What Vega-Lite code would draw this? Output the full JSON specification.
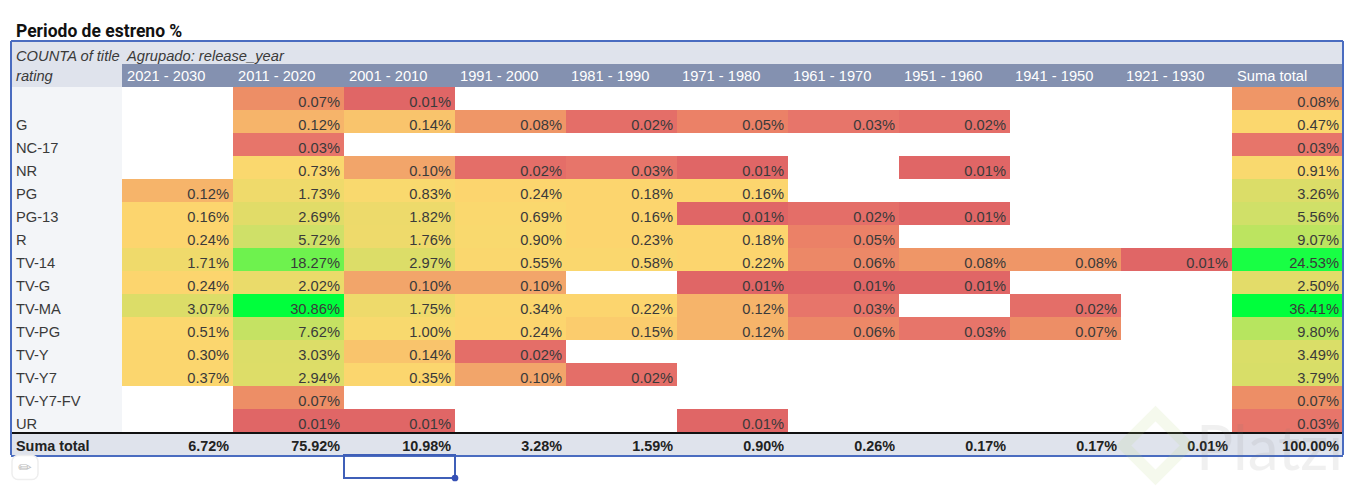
{"$schema":"https://vega.github.io/schema/vega-lite/v6.json","width":1363,"height":490,"padding":0,"autosize":{"type":"none"},"background":"white","config":{"view":{"stroke":null}},
"datasets":{
"cells":[
{"r":"(blank)","c":"2011 - 2020","v":0.07},{"r":"(blank)","c":"2001 - 2010","v":0.01},{"r":"(blank)","c":"Suma total","v":0.08},
{"r":"G","c":"2011 - 2020","v":0.12},{"r":"G","c":"2001 - 2010","v":0.14},{"r":"G","c":"1991 - 2000","v":0.08},{"r":"G","c":"1981 - 1990","v":0.02},{"r":"G","c":"1971 - 1980","v":0.05},{"r":"G","c":"1961 - 1970","v":0.03},{"r":"G","c":"1951 - 1960","v":0.02},{"r":"G","c":"Suma total","v":0.47},
{"r":"NC-17","c":"2011 - 2020","v":0.03},{"r":"NC-17","c":"Suma total","v":0.03},
{"r":"NR","c":"2011 - 2020","v":0.73},{"r":"NR","c":"2001 - 2010","v":0.10},{"r":"NR","c":"1991 - 2000","v":0.02},{"r":"NR","c":"1981 - 1990","v":0.03},{"r":"NR","c":"1971 - 1980","v":0.01},{"r":"NR","c":"1951 - 1960","v":0.01},{"r":"NR","c":"Suma total","v":0.91},
{"r":"PG","c":"2021 - 2030","v":0.12},{"r":"PG","c":"2011 - 2020","v":1.73},{"r":"PG","c":"2001 - 2010","v":0.83},{"r":"PG","c":"1991 - 2000","v":0.24},{"r":"PG","c":"1981 - 1990","v":0.18},{"r":"PG","c":"1971 - 1980","v":0.16},{"r":"PG","c":"Suma total","v":3.26},
{"r":"PG-13","c":"2021 - 2030","v":0.16},{"r":"PG-13","c":"2011 - 2020","v":2.69},{"r":"PG-13","c":"2001 - 2010","v":1.82},{"r":"PG-13","c":"1991 - 2000","v":0.69},{"r":"PG-13","c":"1981 - 1990","v":0.16},{"r":"PG-13","c":"1971 - 1980","v":0.01},{"r":"PG-13","c":"1961 - 1970","v":0.02},{"r":"PG-13","c":"1951 - 1960","v":0.01},{"r":"PG-13","c":"Suma total","v":5.56},
{"r":"R","c":"2021 - 2030","v":0.24},{"r":"R","c":"2011 - 2020","v":5.72},{"r":"R","c":"2001 - 2010","v":1.76},{"r":"R","c":"1991 - 2000","v":0.90},{"r":"R","c":"1981 - 1990","v":0.23},{"r":"R","c":"1971 - 1980","v":0.18},{"r":"R","c":"1961 - 1970","v":0.05},{"r":"R","c":"Suma total","v":9.07},
{"r":"TV-14","c":"2021 - 2030","v":1.71},{"r":"TV-14","c":"2011 - 2020","v":18.27},{"r":"TV-14","c":"2001 - 2010","v":2.97},{"r":"TV-14","c":"1991 - 2000","v":0.55},{"r":"TV-14","c":"1981 - 1990","v":0.58},{"r":"TV-14","c":"1971 - 1980","v":0.22},{"r":"TV-14","c":"1961 - 1970","v":0.06},{"r":"TV-14","c":"1951 - 1960","v":0.08},{"r":"TV-14","c":"1941 - 1950","v":0.08},{"r":"TV-14","c":"1921 - 1930","v":0.01},{"r":"TV-14","c":"Suma total","v":24.53},
{"r":"TV-G","c":"2021 - 2030","v":0.24},{"r":"TV-G","c":"2011 - 2020","v":2.02},{"r":"TV-G","c":"2001 - 2010","v":0.10},{"r":"TV-G","c":"1991 - 2000","v":0.10},{"r":"TV-G","c":"1971 - 1980","v":0.01},{"r":"TV-G","c":"1961 - 1970","v":0.01},{"r":"TV-G","c":"1951 - 1960","v":0.01},{"r":"TV-G","c":"Suma total","v":2.50},
{"r":"TV-MA","c":"2021 - 2030","v":3.07},{"r":"TV-MA","c":"2011 - 2020","v":30.86},{"r":"TV-MA","c":"2001 - 2010","v":1.75},{"r":"TV-MA","c":"1991 - 2000","v":0.34},{"r":"TV-MA","c":"1981 - 1990","v":0.22},{"r":"TV-MA","c":"1971 - 1980","v":0.12},{"r":"TV-MA","c":"1961 - 1970","v":0.03},{"r":"TV-MA","c":"1941 - 1950","v":0.02},{"r":"TV-MA","c":"Suma total","v":36.41},
{"r":"TV-PG","c":"2021 - 2030","v":0.51},{"r":"TV-PG","c":"2011 - 2020","v":7.62},{"r":"TV-PG","c":"2001 - 2010","v":1.00},{"r":"TV-PG","c":"1991 - 2000","v":0.24},{"r":"TV-PG","c":"1981 - 1990","v":0.15},{"r":"TV-PG","c":"1971 - 1980","v":0.12},{"r":"TV-PG","c":"1961 - 1970","v":0.06},{"r":"TV-PG","c":"1951 - 1960","v":0.03},{"r":"TV-PG","c":"1941 - 1950","v":0.07},{"r":"TV-PG","c":"Suma total","v":9.80},
{"r":"TV-Y","c":"2021 - 2030","v":0.30},{"r":"TV-Y","c":"2011 - 2020","v":3.03},{"r":"TV-Y","c":"2001 - 2010","v":0.14},{"r":"TV-Y","c":"1991 - 2000","v":0.02},{"r":"TV-Y","c":"Suma total","v":3.49},
{"r":"TV-Y7","c":"2021 - 2030","v":0.37},{"r":"TV-Y7","c":"2011 - 2020","v":2.94},{"r":"TV-Y7","c":"2001 - 2010","v":0.35},{"r":"TV-Y7","c":"1991 - 2000","v":0.10},{"r":"TV-Y7","c":"1981 - 1990","v":0.02},{"r":"TV-Y7","c":"Suma total","v":3.79},
{"r":"TV-Y7-FV","c":"2011 - 2020","v":0.07},{"r":"TV-Y7-FV","c":"Suma total","v":0.07},
{"r":"UR","c":"2011 - 2020","v":0.01},{"r":"UR","c":"2001 - 2010","v":0.01},{"r":"UR","c":"1971 - 1980","v":0.01},{"r":"UR","c":"Suma total","v":0.03}
],
"totals":[{"c":"2021 - 2030","v":6.72},{"c":"2011 - 2020","v":75.92},{"c":"2001 - 2010","v":10.98},{"c":"1991 - 2000","v":3.28},{"c":"1981 - 1990","v":1.59},{"c":"1971 - 1980","v":0.90},{"c":"1961 - 1970","v":0.26},{"c":"1951 - 1960","v":0.17},{"c":"1941 - 1950","v":0.17},{"c":"1921 - 1930","v":0.01},{"c":"Suma total","v":100.00}],
"columns":[{"c":"2021 - 2030"},{"c":"2011 - 2020"},{"c":"2001 - 2010"},{"c":"1991 - 2000"},{"c":"1981 - 1990"},{"c":"1971 - 1980"},{"c":"1961 - 1970"},{"c":"1951 - 1960"},{"c":"1941 - 1950"},{"c":"1921 - 1930"},{"c":"Suma total"}],
"allcols":[{"c":"label"},{"c":"2021 - 2030"},{"c":"2011 - 2020"},{"c":"2001 - 2010"},{"c":"1991 - 2000"},{"c":"1981 - 1990"},{"c":"1971 - 1980"},{"c":"1961 - 1970"},{"c":"1951 - 1960"},{"c":"1941 - 1950"},{"c":"1921 - 1930"},{"c":"Suma total"}],
"allrows":[{"r":"head1"},{"r":"head2"},{"r":"(blank)"},{"r":"G"},{"r":"NC-17"},{"r":"NR"},{"r":"PG"},{"r":"PG-13"},{"r":"R"},{"r":"TV-14"},{"r":"TV-G"},{"r":"TV-MA"},{"r":"TV-PG"},{"r":"TV-Y"},{"r":"TV-Y7"},{"r":"TV-Y7-FV"},{"r":"UR"},{"r":"total"}],
"rows":[{"r":"(blank)","t":""},{"r":"G","t":"G"},{"r":"NC-17","t":"NC-17"},{"r":"NR","t":"NR"},{"r":"PG","t":"PG"},{"r":"PG-13","t":"PG-13"},{"r":"R","t":"R"},{"r":"TV-14","t":"TV-14"},{"r":"TV-G","t":"TV-G"},{"r":"TV-MA","t":"TV-MA"},{"r":"TV-PG","t":"TV-PG"},{"r":"TV-Y","t":"TV-Y"},{"r":"TV-Y7","t":"TV-Y7"},{"r":"TV-Y7-FV","t":"TV-Y7-FV"},{"r":"UR","t":"UR"}]
},
"encoding":{
"x":{"field":"c","type":"nominal","axis":null,"scale":{"type":"band","domain":["label","2021 - 2030","2011 - 2020","2001 - 2010","1991 - 2000","1981 - 1990","1971 - 1980","1961 - 1970","1951 - 1960","1941 - 1950","1921 - 1930","Suma total"],"range":[11,1343],"paddingInner":0,"paddingOuter":0}},
"y":{"field":"r","type":"nominal","axis":null,"scale":{"type":"band","domain":["title","head1","head2","(blank)","G","NC-17","NR","PG","PG-13","R","TV-14","TV-G","TV-MA","TV-PG","TV-Y","TV-Y7","TV-Y7-FV","UR","total","below"],"range":[18,478],"paddingInner":0,"paddingOuter":0}}
},
"layer":[
{"data":{"name":"allcols"},"transform":[{"calculate":"'head1'","as":"r"}],"mark":{"type":"rect","fill":"#dfe3ec"}},
{"data":{"values":[{"c":"label","r":"head2"}]},"mark":{"type":"rect","fill":"#dfe3ec"}},
{"data":{"name":"columns"},"transform":[{"calculate":"'head2'","as":"r"}],"mark":{"type":"rect","fill":"#8491b0"}},
{"data":{"name":"rows"},"transform":[{"calculate":"'label'","as":"c"}],"mark":{"type":"rect","fill":"#f3f5f8"}},
{"data":{"name":"allcols"},"transform":[{"calculate":"'total'","as":"r"}],"mark":{"type":"rect","fill":"#dfe3ec"}},
{"data":{"name":"cells"},"mark":{"type":"rect"},"encoding":{"color":{"field":"v","type":"quantitative","legend":null,"scale":{"type":"linear","domain":[0.01,0.03,0.07,0.1,0.14,0.16,0.9,1.7,3,5.7,9.8,18.3,24.5,30.86],"range":["#e06666","#e7756a","#ed8e66","#f2a56a","#f9c46c","#fcd56e","#f9d96e","#efda6b","#dcdd68","#cfe068","#b7e55f","#6ef24e","#18ff44","#00ff3c"],"clamp":true}}}},
{"data":{"name":"cells"},"transform":[{"calculate":"format(datum.v,'.2f')+'%'","as":"t"}],"mark":{"type":"text","align":"right","baseline":"middle","font":"Liberation Sans","fontSize":14.7,"fill":"#3a3a3a","xOffset":-4,"yOffset":4},"encoding":{"x":{"field":"c","type":"nominal","bandPosition":1},"text":{"field":"t"}}},
{"data":{"name":"rows"},"transform":[{"calculate":"'label'","as":"c"}],"mark":{"type":"text","align":"left","baseline":"middle","font":"Liberation Sans","fontSize":14.7,"fill":"#3a3a3a","xOffset":5,"yOffset":4},"encoding":{"x":{"field":"c","type":"nominal","bandPosition":0},"text":{"field":"t"}}},
{"data":{"name":"columns"},"transform":[{"calculate":"'head2'","as":"r"}],"mark":{"type":"text","align":"left","baseline":"middle","font":"Liberation Sans","fontSize":14.7,"fill":"#ffffff","xOffset":5,"yOffset":1},"encoding":{"x":{"field":"c","type":"nominal","bandPosition":0},"text":{"field":"c"}}},
{"data":{"values":[{"c":"label","r":"head1","t":"COUNTA of title"},{"c":"2021 - 2030","r":"head1","t":"Agrupado: release_year"}]},"mark":{"type":"text","align":"left","baseline":"middle","font":"Liberation Sans","fontStyle":"italic","fontSize":14.7,"fill":"#3a3a3a","xOffset":5,"yOffset":4},"encoding":{"x":{"field":"c","type":"nominal","bandPosition":0},"text":{"field":"t"}}},
{"data":{"values":[{"c":"label","r":"head2","t":"rating"}]},"mark":{"type":"text","align":"left","baseline":"middle","font":"Liberation Sans","fontStyle":"italic","fontSize":14.7,"fill":"#3a3a3a","xOffset":5,"yOffset":1},"encoding":{"x":{"field":"c","type":"nominal","bandPosition":0},"text":{"field":"t"}}},
{"data":{"values":[{"c":"label","r":"total","t":"Suma total"}]},"mark":{"type":"text","align":"left","baseline":"middle","font":"Liberation Sans","fontWeight":"bold","fontSize":14.4,"fill":"#222222","xOffset":5,"yOffset":3},"encoding":{"x":{"field":"c","type":"nominal","bandPosition":0},"text":{"field":"t"}}},
{"data":{"name":"totals"},"transform":[{"calculate":"'total'","as":"r"},{"calculate":"format(datum.v,'.2f')+'%'","as":"t"}],"mark":{"type":"text","align":"right","baseline":"middle","font":"Liberation Sans","fontWeight":"bold","fontSize":14.4,"fill":"#222222","xOffset":-4,"yOffset":3},"encoding":{"x":{"field":"c","type":"nominal","bandPosition":1},"text":{"field":"t"}}},
{"data":{"values":[{"c":"label","r":"title","t":"Periodo de estreno %"}]},"mark":{"type":"text","align":"left","baseline":"middle","font":"Roboto","fontWeight":"bold","fontSize":17.5,"fill":"#111111","xOffset":5,"yOffset":2},"encoding":{"x":{"field":"c","type":"nominal","bandPosition":0},"text":{"field":"t"}}},
{"data":{"name":"allcols"},"transform":[{"calculate":"'total'","as":"r"}],"mark":{"type":"tick","orient":"horizontal","size":111,"thickness":2,"color":"#111111","opacity":1,"yOffset":1},"encoding":{"y":{"field":"r","type":"nominal","bandPosition":0}}},
{"data":{"name":"allcols"},"transform":[{"calculate":"'head1'","as":"r"}],"mark":{"type":"tick","orient":"horizontal","size":111,"thickness":2,"color":"#4a6cc0","opacity":1},"encoding":{"y":{"field":"r","type":"nominal","bandPosition":0}}},
{"data":{"name":"allcols"},"transform":[{"calculate":"'total'","as":"r"}],"mark":{"type":"tick","orient":"horizontal","size":111,"thickness":2,"color":"#4a6cc0","opacity":1,"yOffset":1},"encoding":{"y":{"field":"r","type":"nominal","bandPosition":1}}},
{"data":{"name":"allrows"},"transform":[{"calculate":"'label'","as":"c"}],"mark":{"type":"tick","orient":"vertical","size":23,"thickness":2,"color":"#4a6cc0","opacity":1},"encoding":{"x":{"field":"c","type":"nominal","bandPosition":0}}},
{"data":{"name":"allrows"},"transform":[{"calculate":"'Suma total'","as":"c"}],"mark":{"type":"tick","orient":"vertical","size":23,"thickness":2,"color":"#4a6cc0","opacity":1},"encoding":{"x":{"field":"c","type":"nominal","bandPosition":1}}},
{"data":{"values":[{"c":"1921 - 1930","r":"total"}]},"mark":{"type":"point","shape":"diamond","filled":false,"size":4096,"strokeWidth":11,"stroke":"#b9d77a","opacity":0.13,"xOffset":-21,"yOffset":2}},
{"data":{"values":[{"c":"Suma total","r":"total","t":"Platzi"}]},"mark":{"type":"text","align":"left","baseline":"alphabetic","font":"Lato","fontSize":62,"fill":"#777777","opacity":0.1,"xOffset":-36,"yOffset":15},"encoding":{"x":{"field":"c","type":"nominal","bandPosition":0},"y":{"field":"r","type":"nominal","bandPosition":1},"text":{"field":"t"}}},
{"data":{"values":[{"c":"2001 - 2010","r":"below"}]},"mark":{"type":"rect","fill":null,"stroke":"#3f5fb8","strokeWidth":2}},
{"data":{"values":[{"c":"2001 - 2010","r":"below"}]},"mark":{"type":"point","filled":true,"fill":"#3650b5","size":45,"opacity":1},"encoding":{"x":{"field":"c","type":"nominal","bandPosition":1},"y":{"field":"r","type":"nominal","bandPosition":1}}},
{"data":{"values":[{"c":"label","r":"below"}]},"mark":{"type":"rect","width":26,"height":24,"cornerRadius":6,"fill":"#ffffff","stroke":"#eeeeee","strokeWidth":1.5,"xOffset":-41.5,"yOffset":1}},
{"data":{"values":[{"c":"label","r":"below","t":"✏"}]},"mark":{"type":"text","font":"DejaVu Sans","fontSize":16,"fill":"#bdbdbd","baseline":"middle","align":"center","xOffset":-41.5,"yOffset":1},"encoding":{"text":{"field":"t"}}}
]}
